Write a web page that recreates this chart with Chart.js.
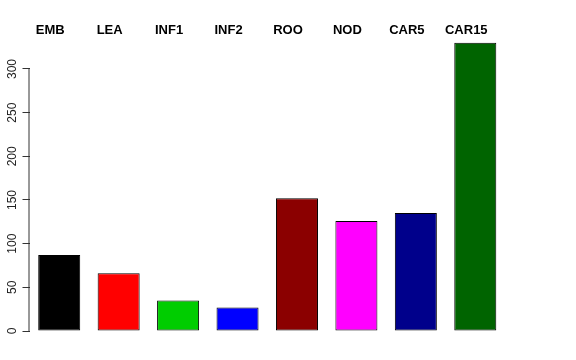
<!DOCTYPE html>
<html>
<head>
<meta charset="utf-8">
<script src="https://cdn.jsdelivr.net/npm/chart.js@4.4.1/dist/chart.umd.min.js"></script>
<style>
  html, body { margin: 0; padding: 0; background: #fff; }
  #wrap { width: 576px; height: 360px; }
</style>
</head>
<body>
<div id="wrap"><canvas id="myChart" width="576" height="360"></canvas></div>
<script>
// categorias y valores
var categorias = ["EMB", "LEA", "INF1", "INF2", "ROO", "NOD", "CAR5", "CAR15"];
var valores = [87, 66, 35, 27, 152, 126, 135, 330];
var colores = ["#000000", "#FF0000", "#00CD00", "#0000FF", "#8B0000", "#FF00FF", "#00008B", "#006400"];
var ticksY = [0, 50, 100, 150, 200, 250, 300];

// linea del eje y solo entre 0 y 300, como en R
var ejeY = {
  id: "ejeY",
  afterDraw: function (chart) {
    var y = chart.scales.y;
    var ctx = chart.ctx;
    ctx.save();
    ctx.strokeStyle = "#333";
    ctx.lineWidth = 1;
    ctx.beginPath();
    ctx.moveTo(y.right - 0.5, y.getPixelForValue(ticksY[0]));
    ctx.lineTo(y.right - 0.5, y.getPixelForValue(ticksY[ticksY.length - 1]));
    ctx.stroke();
    ctx.restore();
  }
};

var graficar = document.getElementById("myChart").getContext("2d");
var myChart = new Chart(graficar, {
  type: "bar",
  data: {
    labels: categorias,
    datasets: [
      {
        data: valores,
        backgroundColor: colores,
        borderColor: "#000",
        borderWidth: 1,
        borderSkipped: false,
        barPercentage: 0.707,
        categoryPercentage: 1
      }
    ]
  },
  options: {
    responsive: false,
    animation: false,
    layout: { padding: { left: 0, right: 71, top: 0, bottom: 29 } },
    plugins: { legend: { display: false }, tooltip: { enabled: false } },
    scales: {
      x: {
        position: "top",
        grid: { display: false },
        border: { display: false },
        ticks: {
          color: "#000",
          padding: -8,
          labelOffset: -9,
          maxRotation: 0,
          autoSkip: false,
          font: { family: "Liberation Sans, Arial, sans-serif", size: 13, weight: "bold" }
        },
        afterFit: function (scale) { scale.height = 38.4; }
      },
      y: {
        min: 0,
        max: 335,
        grid: { drawOnChartArea: false, drawTicks: true, tickLength: 7, color: "#333" },
        border: { display: false },
        ticks: {
          color: "#222",
          padding: 0,
          minRotation: 90,
          maxRotation: 90,
          crossAlign: "center",
          font: { family: "Liberation Sans, Arial, sans-serif", size: 12 }
        },
        afterBuildTicks: function (scale) {
          scale.ticks = ticksY.map(function (v) { return { value: v }; });
        },
        afterFit: function (scale) { scale.width = 29.5; }
      }
    }
  },
  plugins: [ejeY]
});
</script>
</body>
</html>
